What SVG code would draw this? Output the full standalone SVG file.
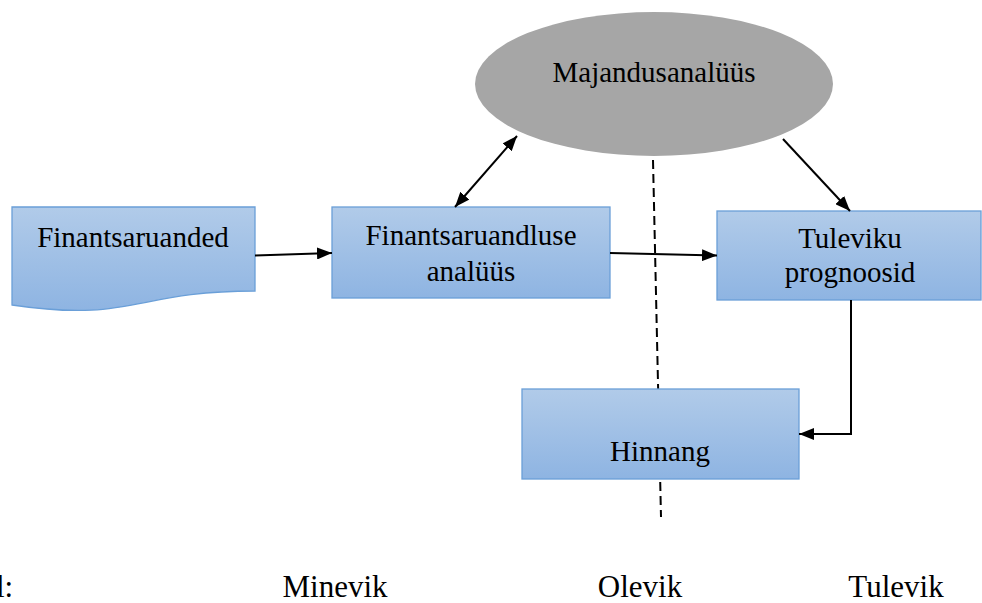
<svg xmlns="http://www.w3.org/2000/svg" width="982" height="603" viewBox="0 0 982 603">
<style>
text{font-family:"Liberation Serif","Times New Roman",serif;fill:#000;text-anchor:middle}
.node text{font-size:29px}
.box{fill:url(#g);stroke:#6a9fd8;stroke-width:1.3}
.conn{stroke:#000;stroke-width:2;fill:none}
.dash{stroke:#000;stroke-width:2;fill:none;stroke-dasharray:9 5}
.lab{font-size:31px}
</style>
<defs>
<linearGradient id="g" x1="0" y1="0" x2="0" y2="1">
<stop offset="0" stop-color="#b1cbe9"/>
<stop offset="1" stop-color="#8eb4e2"/>
</linearGradient>
<marker id="ah" viewBox="0 0 15 12" refX="15" refY="6" markerWidth="15" markerHeight="12" markerUnits="userSpaceOnUse" orient="auto-start-reverse">
<path d="M0,0 L15,6 L0,12 Z" fill="#000"/>
</marker>
</defs>
<line class="dash" x1="653" y1="160" x2="661" y2="517"/>
<g id="majandusanaluus" class="node">
<ellipse cx="654" cy="84" rx="179" ry="72" fill="#a6a6a6"/>
<text x="654" y="82">Majandusanalüüs</text>
</g>
<g id="finantsaruanded" class="node">
<path class="box" d="M12,207 H255 V291 C133.5,291 133.5,323 12,305 Z"/>
<text x="133" y="247">Finantsaruanded</text>
</g>
<g id="finantsaruandluse" class="node">
<rect class="box" x="332" y="207" width="278" height="91"/>
<text x="471" y="245">Finantsaruandluse</text>
<text x="471" y="281">analüüs</text>
</g>
<g id="tuleviku" class="node">
<rect class="box" x="717" y="211" width="264" height="89"/>
<text x="850" y="248">Tuleviku</text>
<text x="850" y="282">prognoosid</text>
</g>
<g id="hinnang" class="node">
<rect class="box" x="522" y="389" width="277" height="90"/>
<text x="660" y="461">Hinnang</text>
</g>
<g id="connectors">
<line class="conn" x1="255" y1="255.5" x2="332" y2="253" marker-end="url(#ah)"/>
<line class="conn" x1="610" y1="253" x2="717" y2="255.5" marker-end="url(#ah)"/>
<line class="conn" x1="455" y1="207" x2="517" y2="136" marker-start="url(#ah)" marker-end="url(#ah)"/>
<line class="conn" x1="783" y1="139" x2="850" y2="211" marker-end="url(#ah)"/>
<polyline class="conn" points="851,300 851,434 799,434" marker-end="url(#ah)"/>
</g>
<g id="labels">
<text class="lab" x="-4" y="597" style="text-anchor:start">l:</text>
<text class="lab" x="335" y="597">Minevik</text>
<text class="lab" x="640" y="597">Olevik</text>
<text class="lab" x="896" y="597">Tulevik</text>
</g>
</svg>
